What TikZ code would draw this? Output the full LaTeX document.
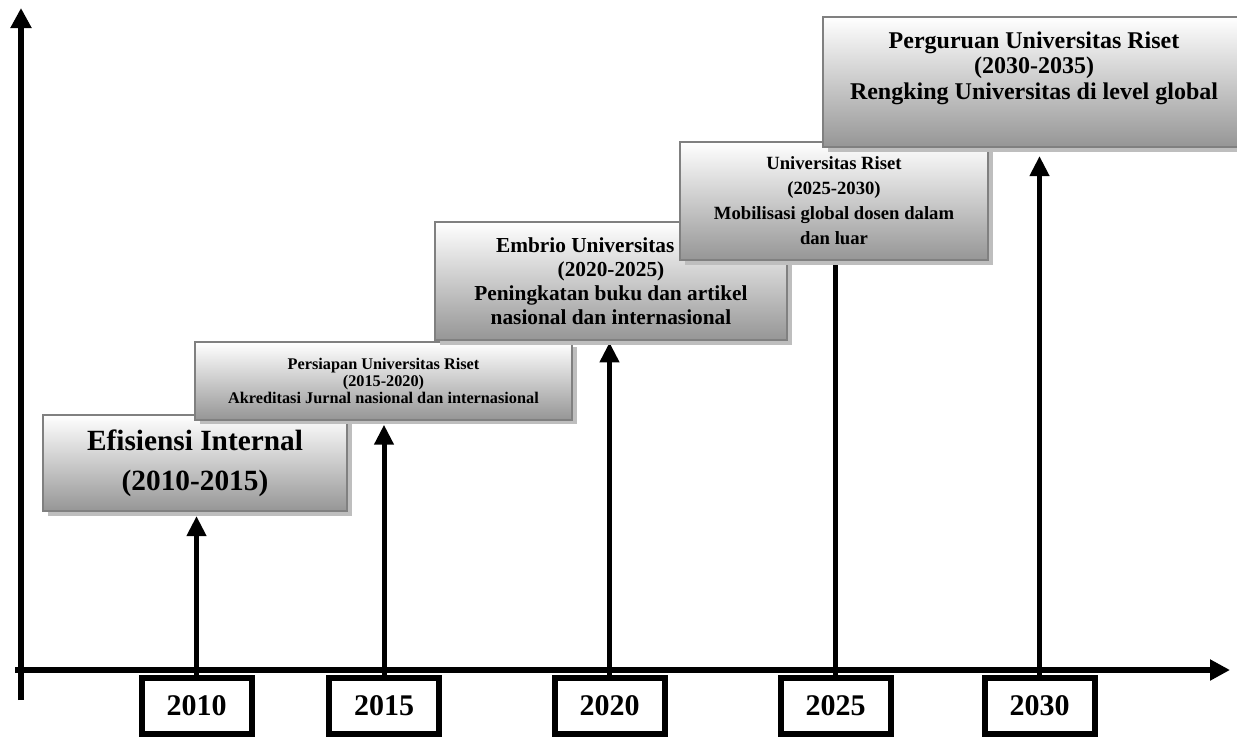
\documentclass[tikz,border=0pt]{standalone}
\usepackage{fontspec}
\setmainfont{Liberation Serif}
\usetikzlibrary{arrows.meta,shadows,backgrounds}

\definecolor{boxedge}{RGB}{128,128,128}
\definecolor{boxshade}{RGB}{150,150,150}
\definecolor{boxshadow}{RGB}{190,190,190}

\tikzset{every picture/.style={line width=0.75pt}}
\tikzset{
  stagebox/.style={draw=boxedge, line width=1.5pt, top color=white, bottom color=boxshade,
    drop shadow={shadow xshift=4pt, shadow yshift=-3.5pt, fill=boxshadow, opacity=1},
    align=center, font=\bfseries, inner sep=0pt},
  yearbox/.style={draw, line width=4.5pt, fill=white, minimum width=82.5pt, minimum height=42pt,
    font=\bfseries\fontsize{22.5}{26}\selectfont, inner sep=0pt},
  axisline/.style={line width=4.5pt, -{Triangle[width=15pt,length=15pt]}},
  riseline/.style={line width=3.75pt, -{Triangle[width=14pt,length=15pt]}}
}

\begin{document}
\begin{tikzpicture}[x=0.75pt,y=0.75pt,yscale=-1,xscale=1]
\useasboundingbox (0,0) rectangle (1237,736);

%Straight Lines [axes]
\coordinate (ybot) at (21,700);
\coordinate (ytop) at (21,8);
\coordinate (xleft) at (15,670);
\coordinate (xright) at (1230,670);
\draw [axisline] (ybot) -- (ytop);
\draw [axisline] (xleft) -- (xright);

%Shape: Rectangle [years]
\node [yearbox] (y2010) at (196.5,706) {2010};
\node [yearbox] (y2015) at (384,706) {2015};
\node [yearbox] (y2020) at (609.5,706) {2020};
\node [yearbox] (y2025) at (835.5,706) {2025};
\node [yearbox] (y2030) at (1039.5,706) {2030};

%Shape: Rectangle [stages]
\node [stagebox, minimum width=228pt, minimum height=72pt, font=\bfseries\fontsize{22}{30}\selectfont] (stage1) at (195,463)
  {Efisiensi Internal\\(2010-2015)};
\node [stagebox, minimum width=282.75pt, minimum height=58pt, font=\bfseries\fontsize{12.2}{12.5}\selectfont] (stage2) at (383.5,381)
  {Persiapan Universitas Riset\\(2015-2020)\\Akreditasi Jurnal nasional dan internasional};
\node [stagebox, minimum width=264pt, minimum height=88.5pt, font=\bfseries\fontsize{16}{18}\selectfont] (stage3) at (611,281)
  {Embrio Universitas\hphantom{ Riset}\\(2020-2025)\\Peningkatan buku dan artikel\\nasional dan internasional};
\node [stagebox, minimum width=231pt, minimum height=88.5pt, font=\bfseries\fontsize{14}{18.75}\selectfont] (stage4) at (834,201)
  {Universitas Riset\\(2025-2030)\\Mobilisasi global dosen dalam\\dan luar};
\node [stagebox, minimum width=316.5pt, minimum height=97.5pt] (stage5) at (1034,82) {};

% Text Node
\node [align=center, font=\bfseries\fontsize{18}{19}\selectfont] (stage5text) at (1034,68)
  {Perguruan Universitas Riset\\(2030-2035)\\Rengking Universitas di level global};

%Straight Lines [rising arrows]
\begin{pgfonlayer}{background}
\draw [riseline, shorten >=3pt] (y2010.north) -- (y2010.north |- stage1.south);
\draw [riseline, shorten >=3pt] (y2015.north) -- (y2015.north |- stage2.south);
\draw [riseline, shorten >=1pt] (y2020.north) -- (y2020.north |- stage3.south);
\draw [riseline] (y2025.north) -- (y2025.north |- stage4.center);
\draw [riseline, shorten >=6pt] (y2030.north) -- (y2030.north |- stage5.south);
\end{pgfonlayer}

\end{tikzpicture}
\end{document}
